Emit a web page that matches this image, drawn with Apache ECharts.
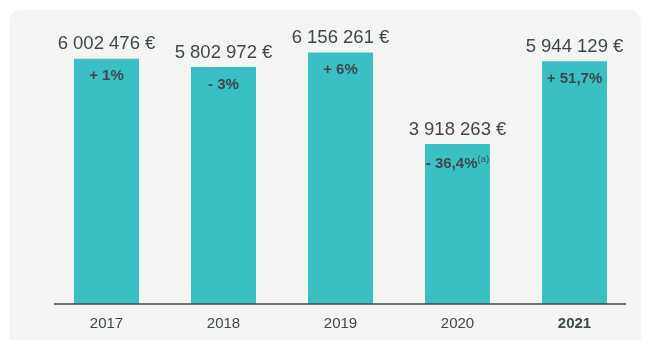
<!DOCTYPE html>
<html>
<head>
<meta charset="utf-8">
<script src="https://cdn.jsdelivr.net/npm/echarts@6/dist/echarts.min.js"></script>
<style>
  html, body { margin: 0; padding: 0; background: #ffffff; }
  #chart { width: 645px; height: 340px; }
</style>
</head>
<body>
<div id="chart"></div>
<script>
// Annual revenue (EUR) and year-over-year change
const years = ['2017', '2018', '2019', '2020', '2021'];
const revenue = [6002476, 5802972, 6156261, 3918263, 5944129];
const changes = ['+ 1%', '- 3%', '+ 6%', '- 36,4%', '+ 51,7%'];
const changeNotes = ['', '', '', '(a)', ''];
const boldYear = '2021';

function fmtEuro(v) {
  return String(v).replace(/\B(?=(\d{3})+(?!\d))/g, ' ') + ' €';
}

const chart = echarts.init(document.getElementById('chart'), null, { renderer: 'canvas' });

const textColor = '#3d494d';
const barColor = '#3abfc2';
const font = 'Liberation Sans, Arial, sans-serif';

chart.setOption({
  animation: false,
  backgroundColor: '#ffffff',
  graphic: [
    {
      // rounded panel behind the plot
      type: 'rect',
      z: -10,
      shape: { x: 9, y: 10, width: 632, height: 345, r: 12 },
      style: { fill: '#f4f4f2' }
    },
    {
      // baseline, slightly shorter than the category band
      type: 'line',
      z: 10,
      shape: { x1: 54, y1: 304, x2: 626, y2: 304 },
      style: { stroke: '#3c4a4c', lineWidth: 1.6 }
    }
  ],
  grid: { left: 48, right: 12, top: 18, bottom: 36 },
  xAxis: {
    type: 'category',
    data: years,
    axisLine: { show: false },
    axisTick: { show: false },
    axisLabel: {
      margin: 12,
      fontFamily: font,
      fontSize: 15,
      color: textColor,
      formatter: (v) => v === boldYear ? '{b|' + v + '}' : v,
      rich: { b: { fontWeight: 'bold', fontSize: 15, color: textColor, fontFamily: font } }
    }
  },
  yAxis: {
    type: 'value',
    min: 0,
    max: 7000000,
    show: false,
    splitLine: { show: false }
  },
  series: [
    {
      type: 'bar',
      data: revenue,
      barWidth: 65,
      itemStyle: { color: barColor },
      z: 2,
      label: {
        show: true,
        position: 'top',
        distance: 5,
        fontFamily: font,
        fontSize: 18.5,
        color: textColor,
        formatter: (p) => fmtEuro(p.value)
      }
    },
    {
      type: 'bar',
      data: revenue,
      barWidth: 65,
      barGap: '-100%',
      itemStyle: { color: 'rgba(0,0,0,0)' },
      z: 3,
      silent: true,
      label: {
        show: true,
        position: 'insideTop',
        distance: 10,
        formatter: (p) => {
          const note = changeNotes[p.dataIndex];
          return '{c|' + changes[p.dataIndex] + '}' + (note ? '{n|' + note + '}' : '');
        },
        rich: {
          c: { fontFamily: font, fontSize: 15, fontWeight: 'bold', color: textColor },
          n: { fontFamily: font, fontSize: 9.5, color: textColor, verticalAlign: 'top', padding: [0, 0, 9, 0] }
        }
      }
    }
  ]
});
</script>
</body>
</html>
